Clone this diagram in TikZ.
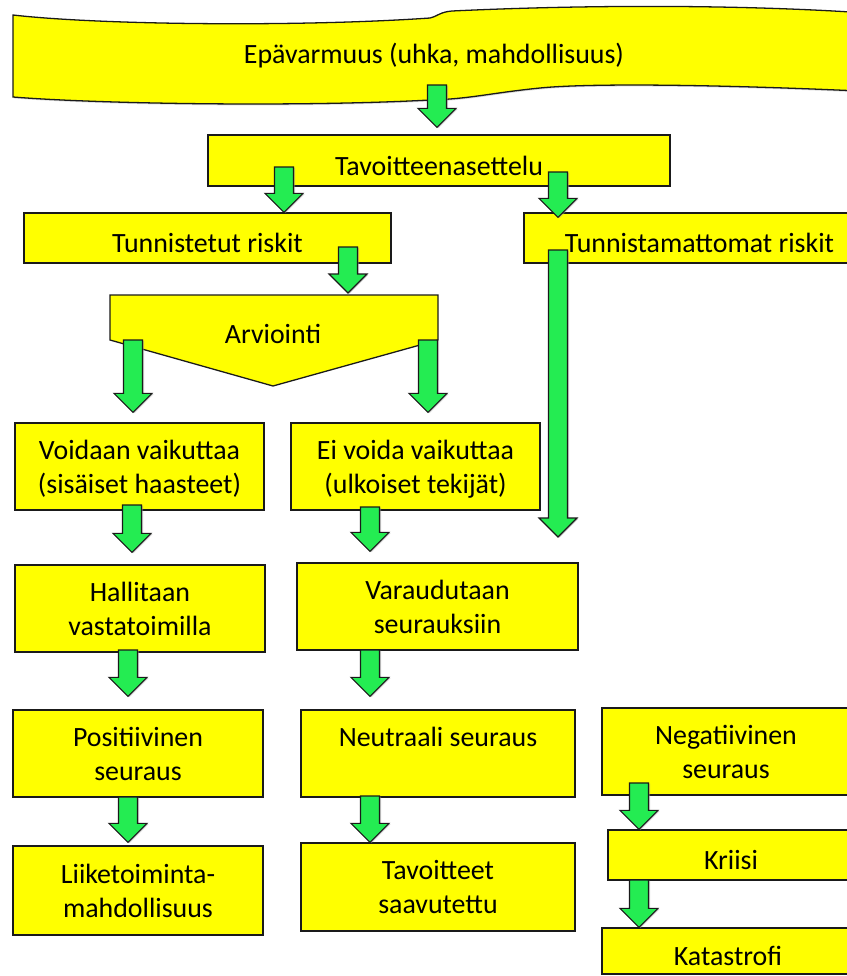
\documentclass[tikz,border=0pt]{standalone}
\usepackage{fontspec}
\setmainfont{Carlito}
\usepackage{tikz}
\usetikzlibrary{calc,shadows}
\definecolor{boxyellow}{HTML}{FFFF00}
\definecolor{arrowgreen}{HTML}{24EC52}
\definecolor{edge}{HTML}{1A1A1A}

\newcommand\blockarrow[2]{%
  \draw[blockarr] let \p1=#1, \p2=#2 in
    (\x1-8.1pt,\y1) -- (\x1+8.1pt,\y1) -- (\x1+8.1pt,\y2+16.2pt) -- (\x1+16.2pt,\y2+16.2pt)
    -- (\x1,\y2) -- (\x1-16.2pt,\y2+16.2pt) -- (\x1-8.1pt,\y2+16.2pt) -- cycle;}

\begin{document}
\begin{tikzpicture}[x=0.03cm,y=-0.03cm,font=\fontsize{23.8}{29}\selectfont,
  box/.style={draw=edge,line width=1.1pt,fill=boxyellow,inner sep=0pt,align=center,
    execute at begin node={\rule{0pt}{1.05em}}},
  box2/.style={box,text depth=-0.2em},
  blockarr/.style={draw=edge,line width=1pt,fill=arrowgreen,
    drop shadow={shadow xshift=1.3pt,shadow yshift=-0.6pt,fill=black!40}},
  banner/.style={draw=edge,line width=1.1pt,fill=boxyellow,
    drop shadow={shadow xshift=0.6pt,shadow yshift=-1.2pt,fill=black!30}}]
  \useasboundingbox (0,0) rectangle (847,976);
  \clip (0,0) rectangle (847,976);

  \draw[banner] (13,15) .. controls (100,25) and (300,27) .. (430,18)
    .. controls (438,16) and (440,12) .. (452,11)
    .. controls (600,4) and (760,5) .. (880,14) -- (880,92)
    .. controls (760,86) and (600,82) .. (540,88)
    .. controls (490,93) and (470,99) .. (430,100)
    .. controls (300,107) and (100,104) .. (13,97) -- cycle;
  \node (epa) at (434,56) {Epävarmuus (uhka, mahdollisuus)};

  \node[box,minimum width=13.86cm,minimum height=1.53cm] (tav) at (439,160.5) {Tavoitteenasettelu};
  \node[box,minimum width=11.01cm,minimum height=1.5cm] (tun) at (207.5,238) {Tunnistetut riskit};
  \node[box,minimum width=10.53cm,minimum height=1.5cm] (tunm) at (699.5,238) {Tunnistamattomat riskit};

  \draw[box] (110,295) -- (438,295) -- (438,340) -- (273,386) -- (110,340) -- cycle;
  \coordinate (arvtop) at (273,295);
  \node (arv) at (273,334) {Arviointi};

  \node[box2,minimum width=7.47cm,minimum height=2.61cm] (voi) at (139.5,466.5) {Voidaan vaikuttaa\\(sisäiset haasteet)};
  \node[box2,minimum width=7.47cm,minimum height=2.61cm] (eiv) at (415.5,466.5) {Ei voida vaikuttaa\\(ulkoiset tekijät)};
  \node[box2,minimum width=7.5cm,minimum height=2.61cm] (hal) at (140,608.5) {Hallitaan\\vastatoimilla};
  \node[box2,minimum width=8.43cm,minimum height=2.61cm] (var) at (437.5,606.5) {Varaudutaan\\seurauksiin};
  \node[box2,minimum width=7.5cm,minimum height=2.61cm] (pos) at (138,753.5) {Positiivinen\\seuraus};
  \node[box2,minimum width=8.22cm,minimum height=2.61cm] (neu) at (438,753.5) {Neutraali seuraus\\~};
  \node[box2,minimum width=7.44cm,minimum height=2.61cm] (neg) at (726,751.5) {Negatiivinen\\seuraus};
  \node[box2,minimum width=7.5cm,minimum height=2.67cm] (lii) at (138,890.5) {Liiketoiminta-\\mahdollisuus};
  \node[box2,minimum width=8.22cm,minimum height=2.64cm] (tavs) at (438,887) {Tavoitteet\\saavutettu};
  \node[box,minimum width=7.38cm,minimum height=1.5cm] (kri) at (731,855) {Kriisi};
  \node[box,minimum width=7.56cm,minimum height=1.38cm] (kat) at (728,951) {Katastrofi};
  \coordinate (tunend) at (558,537);

  \blockarrow{(437,85)}{($(437,0 |- tav.north)+(0,-7)$)}
  \blockarrow{(284,167)}{(284,0 |- tun.north)}
  \blockarrow{(558,172)}{($(558,0 |- tunm.north)+(0,5)$)}
  \blockarrow{(348,247)}{($(348,0 |- arvtop)+(0,-2)$)}
  \blockarrow{(558,250)}{(tunend)}
  \blockarrow{(133,340)}{($(133,0 |- voi.north)+(0,-10)$)}
  \blockarrow{(428,340)}{($(428,0 |- eiv.north)+(0,-10)$)}
  \blockarrow{(132,505)}{($(132,0 |- hal.north)+(0,-12)$)}
  \blockarrow{(370,507)}{($(370,0 |- var.north)+(0,-11)$)}
  \blockarrow{(128,650)}{($(128,0 |- pos.north)+(0,-13)$)}
  \blockarrow{(370,650)}{($(370,0 |- neu.north)+(0,-13)$)}
  \blockarrow{(128,797)}{($(128,0 |- lii.north)+(0,-3)$)}
  \blockarrow{(370,796)}{(370,0 |- tavs.north)}
  \blockarrow{(639,783)}{(639,0 |- kri.north)}
  \blockarrow{(639,880)}{(639,0 |- kat.north)}
\end{tikzpicture}
\end{document}
